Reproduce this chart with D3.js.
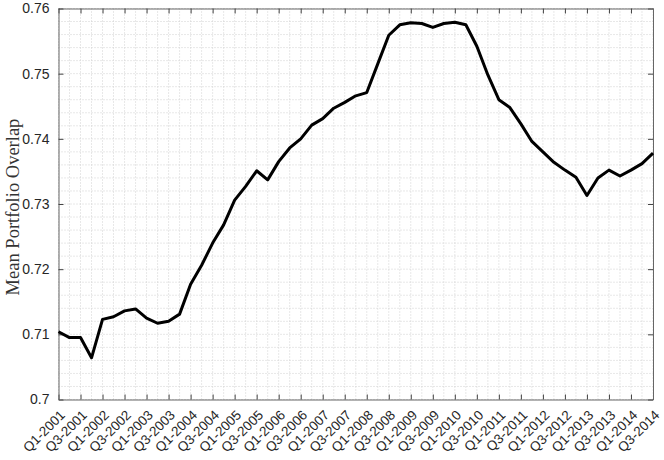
<!DOCTYPE html>
<html><head><meta charset="utf-8">
<script src="https://cdn.jsdelivr.net/npm/d3@7"></script>
<style>body{margin:0;background:#fff;}svg{display:block;}</style>
</head><body>
<svg id="c" width="664" height="460"></svg>
<script>
const quarters = [];
for (let y = 2001; y <= 2014; y++) for (let q = 1; q <= 4; q++) quarters.push("Q" + q + "-" + y);
const labels = quarters.slice(0, 55);
const overlap = [0.7104,0.7095,0.7095,0.7064,0.7123,0.7127,0.7136,0.7139,0.7125,0.7117,
  0.7120,0.7131,0.7177,0.7206,0.7240,0.7268,0.7306,0.7327,0.7351,0.7337,
  0.7365,0.7386,0.7400,0.7421,0.7431,0.7447,0.7456,0.7466,0.7471,0.7515,
  0.7559,0.7575,0.7578,0.7577,0.7571,0.7577,0.7579,0.7575,0.7542,0.7498,
  0.7460,0.7448,0.7423,0.7396,0.7380,0.7364,0.7352,0.7341,0.7313,0.7340,
  0.7352,0.7343,0.7352,0.7362,0.7378];
const yTicks = [0.70,0.71,0.72,0.73,0.74,0.75,0.76];
const yTickLabels = ["0.7","0.71","0.72","0.73","0.74","0.75","0.76"];

const L = 58.5, R = 653, T = 8.5, B = 399.5;
const svg = d3.select("#c");
const x = d3.scaleLinear().domain([0, labels.length - 1]).range([L, R]);
const y = d3.scaleLinear().domain([0.70, 0.76]).range([B, T]);

// minor grid
const g = svg.append("g");
const xMinor = d3.range(0, labels.length);
g.selectAll("line.vx").data(xMinor).enter().append("line")
  .attr("x1", d => x(d)).attr("x2", d => x(d)).attr("y1", T).attr("y2", B)
  .attr("stroke", "#d0d0d0").attr("stroke-width", 1).attr("stroke-dasharray", "1,2");
const yMinor = d3.range(0, 31).map(i => 0.70 + i * 0.002);
g.selectAll("line.hy").data(yMinor).enter().append("line")
  .attr("y1", d => y(d)).attr("y2", d => y(d)).attr("x1", L).attr("x2", R)
  .attr("stroke", "#d0d0d0").attr("stroke-width", 1).attr("stroke-dasharray", "1,2");

// axes
const xTickIdx = d3.range(0, labels.length, 2);
const axB = d3.axisBottom(x).tickValues(xTickIdx).tickSizeInner(-5).tickSizeOuter(0).tickFormat("");
const axT = d3.axisTop(x).tickValues(xTickIdx).tickSizeInner(-5).tickSizeOuter(0).tickFormat("");
const axL = d3.axisLeft(y).tickValues(yTicks).tickSizeInner(-5).tickSizeOuter(0)
  .tickFormat((d, i) => yTickLabels[i]).tickPadding(9);
const axR = d3.axisRight(y).tickValues(yTicks).tickSizeInner(-5).tickSizeOuter(0).tickFormat("");
function style(sel) {
  sel.selectAll("path").attr("stroke", "#666").attr("stroke-width", 1);
  sel.selectAll("line").attr("stroke", "#444").attr("stroke-width", 1);
  sel.selectAll("text").attr("fill", "#262626").attr("font-family", "Liberation Sans, Arial, sans-serif");
}
svg.append("g").attr("transform", `translate(0,${B})`).call(axB).call(style);
svg.append("g").attr("transform", `translate(0,${T})`).call(axT).call(style);
svg.append("g").attr("transform", `translate(${R},0)`).call(axR).call(style);
const gl = svg.append("g").attr("transform", `translate(${L},0)`).call(axL).call(style);
gl.selectAll("text").attr("font-size", 14);

// x tick labels rotated
svg.append("g").selectAll("text").data(xTickIdx).enter().append("text")
  .attr("transform", d => `translate(${x(d) + 4},${B + 13}) rotate(-45)`)
  .attr("text-anchor", "end").attr("dy", "0.35em")
  .attr("font-family", "Liberation Sans, Arial, sans-serif").attr("font-size", 13.5)
  .attr("fill", "#262626").text(d => labels[d]);

// line
const line = d3.line().x((d, i) => x(i)).y(d => y(d));
svg.append("path").datum(overlap).attr("d", line)
  .attr("fill", "none").attr("stroke", "#000").attr("stroke-width", 3).attr("stroke-linejoin", "round");

// y label
svg.append("text").attr("transform", `translate(13,207) rotate(-90)`)
  .attr("text-anchor", "middle").attr("dy", "0.35em")
  .attr("font-family", "Liberation Serif, Times New Roman, serif").attr("font-size", 18.5)
  .attr("fill", "#333").text("Mean Portfolio Overlap");
</script>
</body></html>
